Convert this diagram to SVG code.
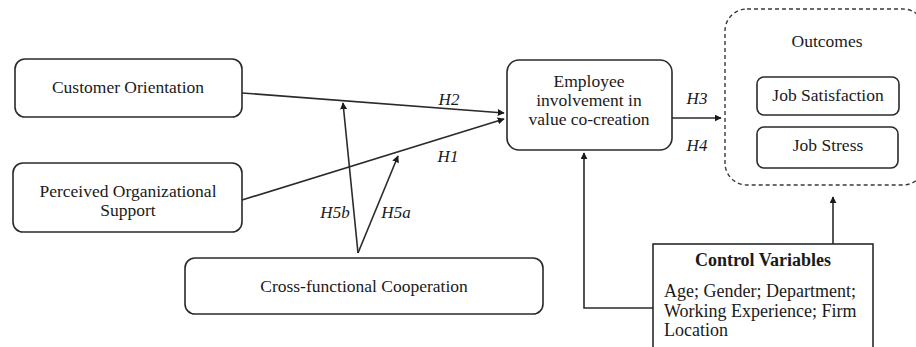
<svg xmlns="http://www.w3.org/2000/svg" width="916" height="347" viewBox="0 0 916 347">
  <style>
    .box { fill: #fff; stroke: #2a2a2a; stroke-width: 1.6; }
    .dash { fill: none; stroke: #3a3a3a; stroke-width: 1.4; stroke-dasharray: 4 3; }
    text { font-family: "Liberation Serif", "DejaVu Serif", serif; fill: #1a1a1a; }
    .lbl { font-size: 17.5px; text-anchor: middle; }
    .ctl { font-size: 18px; }
    .left { text-anchor: start; }
    .hyp { font-size: 17px; font-style: italic; text-anchor: middle; }
    .edge { fill: none; stroke: #2a2a2a; stroke-width: 1.6; }
  </style>
  <defs>
    <marker id="arrow" viewBox="0 0 10 10" refX="9" refY="5" markerWidth="7" markerHeight="7" markerUnits="userSpaceOnUse" orient="auto">
      <path d="M0,0 L10,5 L0,10 z" fill="#1a1a1a"/>
    </marker>
  </defs>
  <rect width="916" height="347" fill="#fff"/>

  <g id="customer-orientation">
    <rect class="box" x="15" y="59" width="227" height="58" rx="10"/>
    <text class="lbl" x="128" y="93">Customer Orientation</text>
  </g>

  <g id="perceived-support">
    <rect class="box" x="13" y="163" width="229" height="69" rx="10"/>
    <text class="lbl" x="128" y="197">Perceived Organizational</text>
    <text class="lbl" x="128" y="216">Support</text>
  </g>

  <g id="cross-functional">
    <rect class="box" x="185" y="258" width="358" height="56" rx="10"/>
    <text class="lbl" x="364" y="292">Cross-functional Cooperation</text>
  </g>

  <g id="employee-involvement">
    <rect class="box" x="507" y="60" width="165" height="90" rx="12"/>
    <text class="lbl" x="589" y="87">Employee</text>
    <text class="lbl" x="589" y="106">involvement in</text>
    <text class="lbl" x="589" y="125">value co-creation</text>
  </g>

  <g id="outcomes">
    <rect class="dash" x="725" y="9" width="200" height="176" rx="22"/>
    <text class="lbl" x="827" y="47">Outcomes</text>
    <g id="job-satisfaction">
      <rect class="box" x="757" y="77" width="142" height="38" rx="7"/>
      <text class="lbl" x="828" y="101">Job Satisfaction</text>
    </g>
    <g id="job-stress">
      <rect class="box" x="757" y="127" width="141" height="41" rx="7"/>
      <text class="lbl" x="828" y="151">Job Stress</text>
    </g>
  </g>

  <g id="control-variables">
    <rect x="653" y="244" width="220" height="110" fill="#fff" stroke="#2a2a2a" stroke-width="1.6"/>
    <text class="lbl ctl" x="763" y="266" font-weight="bold">Control Variables</text>
    <text class="lbl ctl left" x="664" y="297">Age; Gender; Department;</text>
    <text class="lbl ctl left" x="664" y="317">Working Experience; Firm</text>
    <text class="lbl ctl left" x="664" y="336">Location</text>
  </g>

  <g id="connectors">
    <line class="edge" x1="242" y1="93" x2="504" y2="113" marker-end="url(#arrow)"/>
    <line class="edge" x1="242" y1="200" x2="504" y2="119" marker-end="url(#arrow)"/>
    <line class="edge" x1="358" y1="253" x2="343" y2="103" marker-end="url(#arrow)"/>
    <line class="edge" x1="358" y1="253" x2="398" y2="156" marker-end="url(#arrow)"/>
    <line class="edge" x1="672" y1="118" x2="721" y2="118" marker-end="url(#arrow)"/>
    <polyline class="edge" points="653,308 584,308 584,153" marker-end="url(#arrow)"/>
    <line class="edge" x1="833" y1="244" x2="833" y2="197" marker-end="url(#arrow)"/>
    <text class="hyp" x="449" y="105">H2</text>
    <text class="hyp" x="448" y="162">H1</text>
    <text class="hyp" x="335" y="218">H5b</text>
    <text class="hyp" x="396" y="218">H5a</text>
    <text class="hyp" x="697" y="104">H3</text>
    <text class="hyp" x="697" y="151">H4</text>
  </g>
</svg>
